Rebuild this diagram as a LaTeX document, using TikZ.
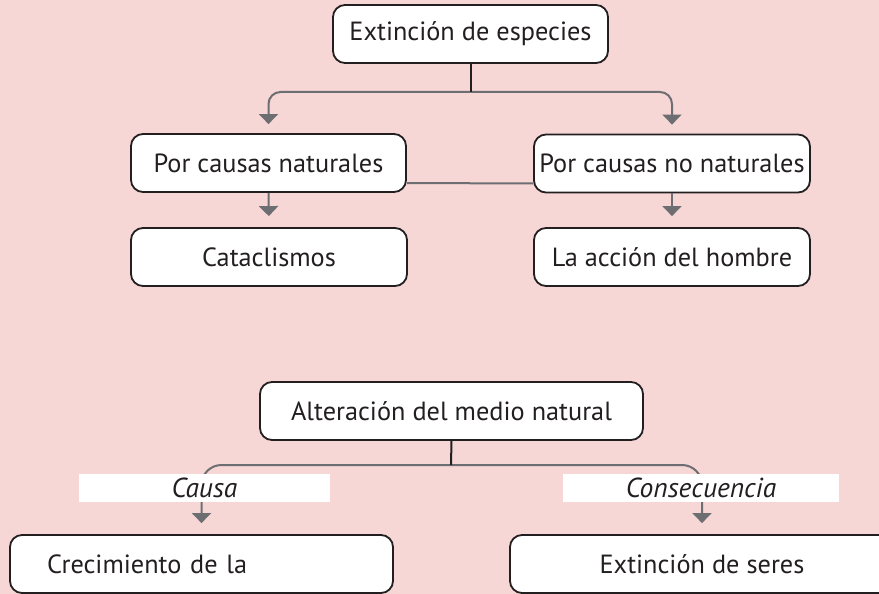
\documentclass[tikz,border=0pt]{standalone}
\usepackage{fontspec}
\setmainfont{PT Sans}
\usetikzlibrary{arrows.meta}
\definecolor{bgpink}{RGB}{247,214,214}
\definecolor{boxline}{RGB}{35,31,32}
\definecolor{conngray}{RGB}{109,110,113}
\definecolor{txt}{RGB}{35,31,32}
\newcommand{\boxfont}{\fontsize{26.3}{31}\selectfont}
\newcommand{\lblfont}{\fontsize{27.5}{32}\selectfont\itshape}
\tikzset{
  box/.style={draw=boxline, line width=1.8pt, rounded corners=12pt, fill=white,
    minimum height=58pt, inner sep=0pt, font=\boxfont, text=txt},
  conn/.style={draw=conngray, line width=2pt},
  arr/.style={-{Triangle[width=19pt,length=10pt]}},
  stem/.style={draw=boxline, line width=2pt},
  lbl/.style={fill=white, minimum height=28pt, inner sep=0pt, font=\lblfont, text=txt}
}
\begin{document}
\begin{tikzpicture}[x=1pt,y=-1pt]
\useasboundingbox (0,0) rectangle (879,594);
\fill[bgpink] (0,0) rectangle (879,594);

% top part
\node[box, minimum width=275pt] (top) at (470.5,34) {Extinción de especies};
\node[box, minimum width=275pt] (pcn) at (268.5,163) {Por causas naturales};
\node[box, minimum width=276pt] (pcnn) at (672,163.5) {Por causas no naturales};
\node[box, minimum width=276pt] (cat) at (269,257) {Cataclismos};
\node[box, minimum width=276pt] (acc) at (672,257) {La acción del hombre};

\coordinate (j1) at (470.5,92);
\draw[conn, arr, rounded corners=12pt, shorten >=9pt] (j1) -| (pcn.north);
\draw[conn, arr, rounded corners=12pt, shorten >=9pt] (j1) -| (pcnn.north);
\draw[stem] (top.south) -- (j1);
\draw[conn, arr, shorten >=11pt] (pcn.south) -- (cat.north);
\draw[conn, arr, shorten >=11pt] (pcnn.south) -- (acc.north);
\draw[conn] ([yshift=-20pt]pcn.east) -- ([yshift=-20pt]pcnn.west);

% bottom part
\node[box, minimum width=383pt] (alt) at (451.5,411) {Alteración del medio natural};
\node[box, text width=309pt, inner xsep=37pt, align=left] (crec) at (201.5,564) {Crecimiento de la};
\node[box, minimum width=384pt] (ext) at (702,564) {Extinción de seres};

\coordinate (j2) at (451,465);
\draw[conn, arr, rounded corners=20pt, shorten >=11pt] (j2) -| (crec.north);
\draw[conn, arr, rounded corners=20pt, shorten >=11pt] (j2) -| (ext.north);
\draw[stem] (alt.south) -- (j2);

\node[lbl, minimum width=251pt] (causa) at (204.5,488) {Causa};
\node[lbl, minimum width=276pt] (consec) at (701,488) {Consecuencia};
\end{tikzpicture}
\end{document}
